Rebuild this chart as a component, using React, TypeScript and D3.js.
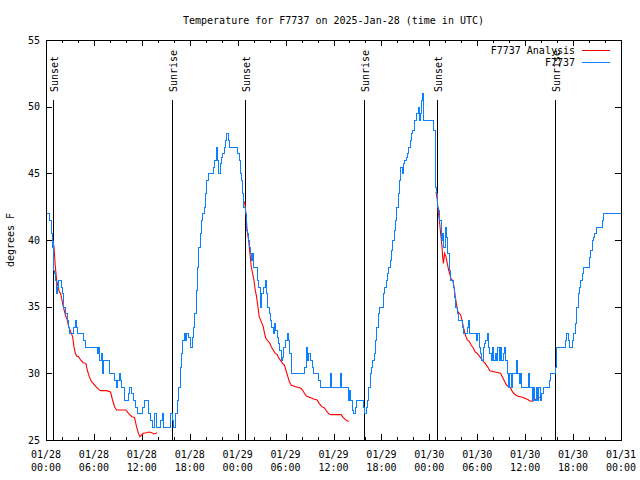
import React from "react";
import * as d3 from "d3";

const START = Date.UTC(2025, 0, 28, 0, 0);
const TITLE = "Temperature for F7737 on 2025-Jan-28 (time in UTC)";
const Y_LABEL = "degrees F";
const SERIES_NAMES = ["F7737 Analysis", "F7737"];
const SERIES_COLORS = ["#ff0000", "#0a80ff"];
const Y_TICKS = [25, 30, 35, 40, 45, 50, 55];

// minutes since 01/28 00:00 UTC
const SUN_EVENT_MIN = [55, 949, 1497, 2387, 2939, 3827];
const SUN_EVENT_LABEL = ["Sunset", "Sunrise", "Sunset", "Sunrise", "Sunset", "Sunrise"];

// observations [minute, degF]
const obsPairs: [number, number][] = [
  [0, 42], [25, 41.5], [35, 40.5], [42, 39.5], [50, 40], [55, 37.75], [60, 37.5], [68, 37], [75, 36], [85, 36.5],
  [92, 37], [110, 36.5], [120, 36], [125, 35.5], [130, 35], [142, 34.5], [155, 34], [168, 33.5], [175, 33], [205, 33.5],
  [215, 34], [225, 33.5], [235, 33], [275, 32.5], [290, 32], [380, 31.5], [392, 32], [400, 31], [410, 31.5], [420, 30],
  [425, 30.5], [430, 31], [470, 30], [510, 29.5], [525, 29], [535, 29.5], [545, 30], [555, 29.5], [565, 29], [585, 28],
  [615, 28.5], [625, 29], [635, 28.5], [650, 28], [668, 27.5], [680, 27], [720, 27.5], [735, 28], [768, 27], [785, 26.5],
  [795, 26], [815, 27], [825, 26], [855, 26.5], [870, 27], [880, 26], [935, 27], [945, 26.5], [955, 26], [970, 27],
  [985, 28], [995, 29], [1005, 30.5], [1015, 31.5], [1025, 32.5], [1035, 33], [1045, 32.5], [1055, 33], [1070, 32.75], [1085, 32],
  [1095, 32.75], [1105, 33.5], [1115, 34.5], [1125, 36.25], [1135, 38], [1145, 39.5], [1155, 40.5], [1165, 41.5], [1175, 42], [1185, 42.5],
  [1195, 43.5], [1205, 44.5], [1220, 45], [1255, 45.5], [1265, 46], [1275, 47], [1285, 46], [1295, 45], [1305, 45.75], [1315, 46.25],
  [1325, 46.5], [1335, 47], [1345, 47.5], [1355, 48], [1365, 47.5], [1375, 47], [1437, 46.5], [1447, 46], [1457, 45], [1465, 44.5],
  [1472, 43.5], [1482, 42.5], [1492, 42], [1502, 40.75], [1507, 40.5], [1517, 40], [1527, 39.5], [1532, 39], [1537, 38.5], [1547, 39],
  [1557, 38], [1582, 37], [1595, 36.5], [1607, 35], [1617, 36], [1632, 36.5], [1642, 37], [1652, 36], [1662, 35], [1672, 34.5],
  [1682, 34], [1692, 33.5], [1702, 33], [1712, 33.75], [1722, 33.25], [1732, 32.75], [1742, 32.25], [1752, 31.75], [1762, 31], [1772, 31.25],
  [1782, 32], [1792, 32.5], [1807, 33], [1817, 32.5], [1827, 31.5], [1837, 30], [1937, 30.5], [1952, 32], [1962, 31], [1972, 31.5],
  [1982, 31], [1997, 30.5], [2007, 30], [2042, 29.5], [2057, 29], [2132, 30], [2142, 29], [2207, 30], [2217, 29], [2267, 28],
  [2277, 28.75], [2287, 28], [2297, 27.25], [2307, 27], [2322, 27.5], [2332, 28], [2382, 27.5], [2392, 27], [2402, 27.5], [2412, 28],
  [2422, 29], [2432, 30], [2442, 30.5], [2452, 31], [2462, 31.5], [2472, 32.5], [2482, 33.5], [2492, 34.5], [2502, 35], [2532, 36],
  [2542, 36.5], [2552, 37], [2562, 37.5], [2572, 38], [2582, 38.5], [2592, 39.25], [2602, 40], [2612, 40.75], [2622, 41.5], [2632, 42.5],
  [2642, 43.5], [2652, 44.5], [2662, 45.5], [2672, 45], [2682, 45.75], [2692, 46], [2702, 46.25], [2712, 46.5], [2722, 47], [2732, 47.5],
  [2742, 48], [2752, 48.25], [2762, 49], [2782, 49.5], [2792, 50], [2800, 49], [2808, 49.5], [2815, 50.5], [2824, 51], [2832, 49],
  [2910, 48.25], [2920, 47], [2922, 44], [2930, 43.5], [2935, 42.5], [2945, 42.25], [2955, 41.5], [2965, 40], [2975, 40.5], [2985, 39.5],
  [2995, 41], [3005, 40.25], [3015, 39], [3025, 37.75], [3035, 37], [3055, 36.5], [3065, 35.75], [3075, 35], [3085, 34.5], [3095, 34],
  [3125, 33.5], [3135, 33], [3160, 33.5], [3170, 34], [3180, 33], [3230, 32.5], [3240, 33], [3250, 32], [3260, 31.5], [3270, 31],
  [3280, 32], [3290, 32.25], [3300, 32.5], [3310, 33], [3320, 32], [3330, 31.5], [3340, 31], [3350, 32], [3360, 31], [3370, 31.5],
  [3380, 31], [3390, 32], [3400, 31], [3410, 32], [3420, 31], [3430, 31.5], [3440, 32], [3450, 31], [3460, 30], [3470, 29],
  [3480, 30], [3490, 29], [3500, 30], [3530, 31], [3540, 30], [3550, 29.25], [3560, 30], [3570, 29], [3620, 30], [3630, 29],
  [3650, 28], [3660, 29], [3670, 28], [3680, 29], [3690, 28], [3700, 29], [3710, 28], [3720, 28.5], [3735, 29], [3780, 29.5],
  [3790, 30], [3825, 30.5], [3830, 32], [3900, 32.5], [3910, 33], [3920, 32.5], [3930, 32], [3950, 32.5], [3960, 33], [3975, 33.75],
  [3985, 35], [3995, 36], [4005, 36.5], [4015, 37], [4025, 37.5], [4035, 38], [4080, 38.75], [4090, 39.25], [4100, 40], [4110, 40.25],
  [4120, 40.5], [4130, 41], [4175, 41.5], [4185, 42], [4320, 42],
];

// analysis, one list per night [minute, degF]
const analysisNight1: [number, number][] = [
  [50, 40], [60, 39.5], [70, 38], [80, 37], [90, 36.5], [100, 36.1], [110, 36], [120, 35.5], [130, 35], [140, 34.6],
  [150, 34.25], [160, 34], [170, 33.5], [180, 33.25], [190, 33], [200, 32.75], [210, 32], [220, 31.5], [230, 31.3], [245, 31.25],
  [260, 31], [280, 30.8], [300, 30.75], [310, 30.25], [325, 29.75], [340, 29.4], [355, 29.25], [375, 29], [395, 28.8], [410, 28.7],
  [455, 28.7], [485, 28.6], [500, 28], [515, 27.5], [530, 27.25], [600, 27.25], [620, 27], [645, 26.75], [665, 26.7], [680, 26],
  [695, 25.5], [705, 25.25], [730, 25.5], [755, 25.55], [775, 25.6], [795, 25.55], [810, 25.45], [825, 25.5], [835, 25.55],
];
const analysisNight2: [number, number][] = [
  [1492, 42.9], [1502, 42], [1512, 40.6], [1522, 40], [1532, 39], [1542, 38], [1552, 37.5], [1562, 37], [1572, 36.25], [1582, 35.75],
  [1592, 35], [1602, 34.25], [1612, 34], [1622, 33.75], [1632, 33.5], [1642, 33], [1652, 32.6], [1662, 32.5], [1682, 32.25], [1692, 32],
  [1707, 31.75], [1722, 31.5], [1737, 31.4], [1752, 31.1], [1767, 30.9], [1777, 30.75], [1792, 30.6], [1802, 30.25], [1817, 29.75], [1827, 29.4],
  [1842, 29.1], [1877, 29], [1912, 28.9], [1927, 28.75], [1942, 28.5], [1957, 28.3], [1977, 28.2], [2017, 28.05], [2037, 28], [2052, 27.75],
  [2072, 27.5], [2092, 27.4], [2112, 27.1], [2127, 26.95], [2142, 26.9], [2217, 26.9], [2232, 26.7], [2247, 26.55], [2262, 26.45], [2277, 26.4],
];
const analysisNight3: [number, number][] = [
  [2930, 43.6], [2940, 43], [2945, 42.25], [2955, 41.5], [2965, 40.5], [2975, 39.5], [2980, 38.75], [2985, 38.25], [2995, 39], [3005, 38.75],
  [3015, 38.25], [3025, 37.75], [3035, 37.4], [3045, 37], [3055, 37], [3065, 36.5], [3075, 35.75], [3085, 35.1], [3095, 34.6], [3115, 34.4],
  [3125, 34], [3135, 33.5], [3145, 33.1], [3155, 32.75], [3165, 32.5], [3180, 32.4], [3195, 32.1], [3210, 31.9], [3225, 31.6], [3240, 31.5],
  [3270, 31.1], [3285, 30.9], [3300, 30.75], [3320, 30.45], [3335, 30.2], [3375, 30.1], [3415, 30], [3430, 29.7], [3445, 29.4], [3460, 29.1],
  [3490, 28.9], [3505, 28.6], [3520, 28.45], [3540, 28.3], [3580, 28.2], [3615, 28.05], [3635, 27.95], [3650, 27.9], [3680, 28.05], [3710, 28.2],
];

const W = 640, H = 480;
const M = { left: 46, right: 621, top: 40, bottom: 440 };
const FONT = "'DejaVu Sans Mono', 'Liberation Mono', monospace";

const toDate = (m: number) => new Date(START + m * 60000);

export default function App() {
  const x = d3.scaleUtc().domain([toDate(0), toDate(72 * 60)]).range([M.left, M.right]);
  const y = d3.scaleLinear().domain([25, 55]).range([M.bottom, M.top]);

  const majorX = d3.utcHour.every(6)!.range(toDate(0), toDate(72 * 60 + 1));
  const minorX = d3.utcHour.every(2)!.range(toDate(0), toDate(72 * 60 + 1));
  const fmtDate = d3.utcFormat("%m/%d");
  const fmtTime = d3.utcFormat("%H:%M");

  const stepLine = d3
    .line<[number, number]>()
    .x((d) => Math.round(x(toDate(d[0]))) + 0.5)
    .y((d) => Math.round(y(d[1])) + 0.5)
    .curve(d3.curveStepAfter);
  const plainLine = d3
    .line<[number, number]>()
    .x((d) => x(toDate(d[0])))
    .y((d) => y(d[1]));

  const cx = (M.left + M.right) / 2;
  const cy = (M.top + M.bottom) / 2;

  return (
    <svg
      width={W}
      height={H}
      style={{ position: "absolute", left: 0, top: 0, background: "#fff" }}
      fontFamily={FONT}
      fontSize={10}
    >
      <rect x={0} y={0} width={W} height={H} fill="#fff" />
      <text x={cx} y={23.5} textAnchor="middle" fill="#000">{TITLE}</text>
      <text transform={`translate(14,${cy}) rotate(-90)`} textAnchor="middle" fill="#000">{Y_LABEL}</text>

      {/* axis ticks */}
      <g stroke="#000" strokeWidth={1} shapeRendering="crispEdges">
        {minorX.map((d, i) => {
          const xx = Math.round(x(d)) + 0.5;
          const major = d.getUTCHours() % 6 === 0;
          const len = major ? 6 : 3;
          return (
            <g key={"mx" + i}>
              <line x1={xx} x2={xx} y1={M.bottom} y2={M.bottom - len} />
              <line x1={xx} x2={xx} y1={M.top} y2={M.top + len} />
            </g>
          );
        })}
        {Y_TICKS.map((t) => {
          const yy = Math.round(y(t)) + 0.5;
          return (
            <g key={"yt" + t}>
              <line x1={M.left} x2={M.left + 6} y1={yy} y2={yy} />
              <line x1={M.right} x2={M.right - 6} y1={yy} y2={yy} />
            </g>
          );
        })}
      </g>

      {Y_TICKS.map((t) => (
        <text key={"yl" + t} x={40} y={y(t) + 3.5} textAnchor="end" fill="#000">{t}</text>
      ))}
      {majorX.map((d, i) => (
        <g key={"xl" + i}>
          <text x={x(d)} y={458} textAnchor="middle" fill="#000">{fmtDate(d)}</text>
          <text x={x(d)} y={471} textAnchor="middle" fill="#000">{fmtTime(d)}</text>
        </g>
      ))}

      {/* sunrise / sunset markers */}
      {SUN_EVENT_MIN.map((m, i) => {
        const xx = Math.round(x(toDate(m))) + 0.5;
        return (
          <g key={"sun" + i}>
            <line x1={xx} x2={xx} y1={100} y2={M.bottom} stroke="#000" strokeWidth={1} shapeRendering="crispEdges" />
            <text transform={`translate(${xx + 4},92) rotate(-90)`} fill="#000">{SUN_EVENT_LABEL[i]}</text>
          </g>
        );
      })}

      {/* data */}
      {[analysisNight1, analysisNight2, analysisNight3].map((night, i) => (
        <path key={"an" + i} d={plainLine(night) || ""} fill="none" stroke={SERIES_COLORS[0]} strokeWidth={1.1} />
      ))}
      <path d={stepLine(obsPairs) || ""} fill="none" stroke={SERIES_COLORS[1]} strokeWidth={1} shapeRendering="crispEdges" />

      {/* legend */}
      {SERIES_NAMES.map((name, i) => (
        <g key={"lg" + i}>
          <text x={575} y={53.5 + i * 12} textAnchor="end" fill="#000">{name}</text>
          <line x1={582} x2={610} y1={50.5 + i * 12} y2={50.5 + i * 12} stroke={SERIES_COLORS[i]} strokeWidth={1} shapeRendering="crispEdges" />
        </g>
      ))}

      <rect x={M.left + 0.5} y={M.top + 0.5} width={M.right - M.left} height={M.bottom - M.top} fill="none" stroke="#000" strokeWidth={1} shapeRendering="crispEdges" />
    </svg>
  );
}
